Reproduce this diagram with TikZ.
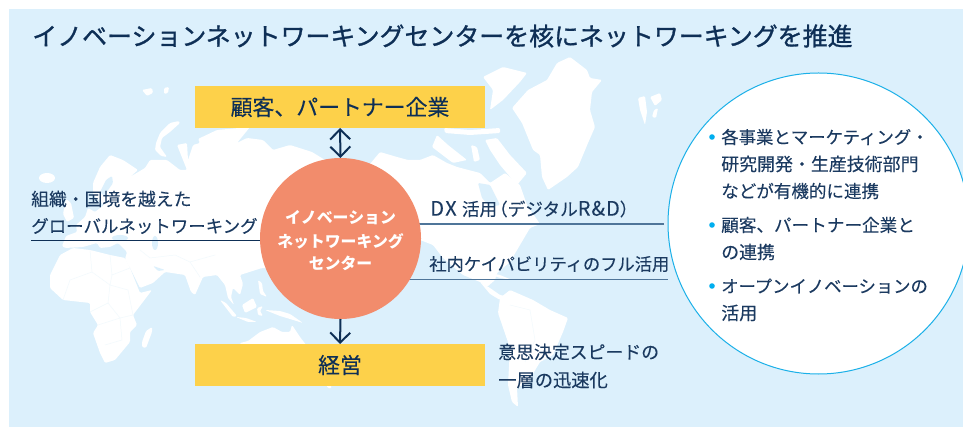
\documentclass[tikz,border=0pt]{standalone}
\usepackage{fontspec}
\usetikzlibrary{arrows.meta}
\newfontfamily\jp[FakeBold=0.12]{Noto Sans CJK JP}
\newfontfamily\jpm[FakeBold=1.1]{Noto Sans CJK JP}
\newfontfamily\jph{Noto Sans CJK JP}
\definecolor{bgblue}{HTML}{DCF0FC}
\definecolor{navy}{HTML}{0E2F56}
\definecolor{textnavy}{HTML}{1B3A60}
\definecolor{sunny}{HTML}{FDD14A}
\definecolor{salmon}{HTML}{F28C6C}
\definecolor{cyanline}{HTML}{1BB0E8}
\definecolor{cyandot}{HTML}{00AEEF}
\definecolor{softline}{HTML}{4F7599}
\definecolor{border}{HTML}{F1F9FD}
\tikzset{
  land/.style={fill=white,draw=none,rounded corners=0.9pt},
  sea/.style={fill=bgblue,draw=none,rounded corners=0.9pt},
  frontier/.style={draw=border,line width=0.35pt},
  titletext/.style={anchor=west,inner sep=0pt,text=navy,font=\jpm\fontsize{18.7pt}{22pt}\selectfont},
  bodytext/.style={anchor=west,inner sep=0pt,text=textnavy,font=\jp\fontsize{#1}{16pt}\selectfont},
  bodytext/.default={13pt},
  boxtext/.style={fill=sunny,inner sep=0pt,outer sep=0pt,minimum width=217.5pt,minimum height=31.5pt,text=navy,font=\jp\fontsize{16.4pt}{20pt}\selectfont},
  hubtext/.style={inner sep=0pt,text=white,font=\jph\bfseries\fontsize{11.9pt}{14pt}\selectfont},
  bulletdot/.style={circle,fill=cyandot,inner sep=0pt,minimum size=4.2pt},
  arrowline/.style={draw=navy,line width=1.5pt,arrows={-Straight Barb[length=7.5pt,width=15pt,line width=1.5pt]}},
  arrowboth/.style={draw=navy,line width=1.5pt,arrows={Straight Barb[length=7.5pt,width=15pt,line width=1.5pt]-Straight Barb[length=7.5pt,width=15pt,line width=1.5pt]}},
}
\begin{document}
\begin{tikzpicture}[x=0.75pt,y=-0.75pt]
\useasboundingbox (0,0) rectangle (963,427);
\fill[bgblue] (9,9) rectangle (963,427);
% --- map ---
% Eurasia
\fill[land] (62,246)--(66,236)--(77,232)--(76,225)--(85,217)--(88,208)--(95,212)--(104,205)--(93,195)--(93,183)--(100,167)--(110,155)--(123,160)--(138,170)--(130,177)--(145,168)--(150,160)--(167,160)--(180,170)--(187,170)--(177,145)--(187,143)--(188,160)--(193,145)--(200,143)--(198,139)--(217,130)--(250,127)--(237,143)--(247,138)--(263,140)--(273,150)--(290,145)--(312,152)--(325,160)--(340,200)--(290,270)--(262,268)--(240,275)--(243,284)--(240,295)--(233,288)--(231,297)--(234,305)--(228,298)--(225,285)--(217,275)--(203,277)--(195,295)--(191,292)--(185,275)--(172,273)--(165,272)--(153,283)--(140,288)--(130,268)--(125,259)--(127,252)--(118,243)--(110,247)--(100,248)--(97,243)--(83,247)--(65,248)--cycle;
\fill[land] (66,199)--(71,203)--(74,218)--(67,222)--(63,214)--cycle;
\fill[sea] (106,180)--(112,176)--(113,183)--(104,196)--(100,192)--cycle;
\fill[bgblue] (120,238) ellipse (8 and 3);
\fill[bgblue] (155,243) ellipse (3 and 7);
\fill[sea] (153,266)--(165,270)--(158,271)--cycle;
\fill[land] (47,178) ellipse (8 and 5);
\fill[land] (142,90)--(152,88)--(153,93)--(147,96)--cycle;
\fill[land] (164,88)--(169,87)--(168,93)--(164,94)--cycle;
\fill[land] (179,121)--(170,123)--(160,133)--(156,143)--(155,150)--(161,156)--(167,157)--(160,147)--(162,138)--(170,132)--(180,123)--cycle;
% Africa
\fill[land] (60,255)--(50,275)--(50,288)--(63,300)--(90,303)--(90,312)--(98,325)--(93,333)--(100,353)--(105,363)--(115,360)--(130,342)--(130,332)--(137,325)--(133,315)--(152,290)--(140,293)--(130,268)--(125,258)--(110,255)--(90,250)--(73,248)--cycle;
\fill[land] (152,327)--(146,331)--(142,342)--(142,347)--(146,348)--(152,332)--cycle;
\draw[frontier] (90,250)--(92,272)--(70,280)--(63,300);
\draw[frontier] (92,272)--(110,285)--(108,303)--(90,312);
\draw[frontier] (110,255)--(112,275)--(130,268);
\draw[frontier] (112,275)--(110,285)--(128,290)--(133,315);
\draw[frontier] (108,303)--(120,318)--(133,315);
\draw[frontier] (98,325)--(120,318)--(122,340)--(105,345);
\draw[frontier] (140,250)--(150,258)--(175,255)--(190,262)--(215,255);
\draw[frontier] (190,262)--(200,277);
% SE Asia and Australia
\fill[land] (220,300)--(226,303)--(237,316)--(233,317)--cycle;
\fill[land] (236,317)--(246,318)--(257,322)--(248,322)--cycle;
\fill[land] (242,305)--(253,298)--(257,307)--(245,313)--cycle;
\fill[land] (257,308)--(263,306)--(260,311)--(263,316)--(258,315)--cycle;
\fill[land] (258,280)--(262,283)--(263,291)--(267,297)--(260,294)--cycle;
\fill[land] (265,310)--(280,311)--(290,314)--(303,323)--(290,319)--(280,316)--cycle;
\fill[land] (240,343)--(248,341)--(260,332)--(273,327)--(282,332)--(290,332)--(292,325)--(300,337)--(310,350)--(240,350)--cycle;
\fill[land] (326,386)--(332,386)--(330,389)--cycle;
% Arctic islands
\fill[land] (483,77)--(503,67)--(527,73)--(520,82)--(503,100)--(490,110)--(493,90)--cycle;
\fill[land] (485,140)--(497,138)--(510,155)--(527,173)--(517,185)--(500,165)--(490,150)--cycle;
\fill[land] (432,147)--(437,135)--(448,145)--(467,160)--(453,163)--cycle;
\fill[land] (471,145)--(477,147)--(480,160)--(474,162)--cycle;
\fill[land] (444,128)--(470,130)--(500,128)--(500,133)--(470,135)--(445,133)--cycle;
% Greenland
\fill[land] (570,57)--(587,70)--(590,78)--(602,80)--(592,92)--(590,110)--(595,127)--(588,143)--(578,167)--(567,177)--(548,190)--(542,177)--(540,155)--(533,150)--(522,123)--(512,108)--(528,90)--(547,80)--(557,63)--cycle;
% Svalbard
\fill[land] (638,98)--(645,96)--(647,112)--(645,125)--(640,110)--cycle;
\fill[land] (650,97)--(660,93)--(662,100)--(655,106)--cycle;
\fill[land] (654,110)--(658,108)--(656,118)--(652,117)--cycle;
% North America
\fill[land] (340,200)--(380,152)--(397,157)--(408,160)--(420,160)--(433,155)--(447,163)--(457,167)--(480,173)--(490,183)--(505,173)--(520,185)--(527,205)--(540,224)--(530,228)--(520,245)--(510,262)--(497,273)--(495,280)--(487,287)--(480,282)--(463,275)--(443,258)--(433,245)--(420,240)--cycle;
\fill[sea] (478,183)--(490,185)--(500,205)--(490,207)--(482,198)--cycle;
\fill[land] (480,282)--(490,288)--(500,295)--(505,296)--(500,300)--(490,294)--cycle;
\fill[land] (484,272)--(500,275)--(512,280)--(500,278)--cycle;
% South America
\fill[land] (500,298)--(510,290)--(533,300)--(550,310)--(568,318)--(563,332)--(553,355)--(540,362)--(528,382)--(517,388)--(518,407)--(512,402)--(508,385)--(510,348)--(498,313)--cycle;
\draw[frontier] (510,305)--(530,310)--(535,340)--(525,362);
% --- connectors under the hub ---
\coordinate (hubC) at (340.5,238.5);
\coordinate (leftEnd) at (31,240.5);
\coordinate (dxEnd) at (664,224);
\coordinate (capEnd) at (668,279.7);
\draw[navy,line width=0.8pt] (leftEnd) -- (leftEnd -| hubC);
\draw[softline,line width=1.1pt] (dxEnd) -- (dxEnd -| hubC);
\draw[softline,line width=1.1pt] (capEnd) -- (capEnd -| hubC);
% --- nodes ---
\node[circle,fill=salmon,inner sep=0pt,outer sep=0pt,minimum size=120.75pt] (hub) at (hubC) {};
\node[boxtext] (customers) at (340,107) {顧客、パートナー企業};
\node[boxtext] (management) at (340,365) {経営};
\draw[arrowboth] (customers.south) -- (hub.north);
\draw[arrowline] (hub.south) -- (management.north);
\begin{scope}
\clip (0,0) rectangle (963,427);
\node[circle,fill=white,draw=cyanline,line width=0.75pt,inner sep=0pt,minimum size=225.75pt] (goal) at (818.5,223.5) {};
\end{scope}
% --- texts ---
\node[titletext] (title) at (32,36) {イノベーションネットワーキングセンターを核にネットワーキングを推進};
\node[hubtext] (hubA) at (340.5,218) {イノベーション};
\node[hubtext] (hubB) at (340.5,241) {ネットワーキング};
\node[hubtext] (hubC1) at (340.5,263) {センター};
\node[bodytext=13.35pt] (leftA) at (31,199) {組織・国境を越えた};
\node[bodytext=13.1pt] (leftB) at (31,226) {グローバルネットワーキング};
\node[bodytext=13.2pt] (dx) at (430,209) {{\fontsize{15pt}{16pt}\selectfont D\kern.06em X}\kern.3em 活用\kern-.4em （デジタル{\fontsize{15pt}{16pt}\selectfont R\kern.05em \&\kern.05em D}）};
\node[bodytext=12.95pt] (cap) at (429,264) {社内ケイパビリティのフル活用};
\node[bodytext=13.4pt] (speedA) at (498,352) {意思決定スピードの};
\node[bodytext=13.7pt] (speedB) at (498,380) {一層の迅速化};
\node[bulletdot] (dotA) at (712,137) {};
\node[bulletdot] (dotB) at (712,225) {};
\node[bulletdot] (dotC) at (712,286) {};
\node[bodytext=13.05pt] (rA) at (721,137) {各事業とマーケティング・};
\node[bodytext=13.45pt] (rB) at (721,164) {研究開発・生産技術部門};
\node[bodytext=13.15pt] (rC) at (721,191) {などが有機的に連携};
\node[bodytext=13.2pt] (rD) at (721,225) {顧客、パートナー企業と};
\node[bodytext=13.4pt] (rE) at (721,252) {の連携};
\node[bodytext=13pt] (rF) at (721,286) {オープンイノベーションの};
\node[bodytext=13.5pt] (rG) at (721,313) {活用};
\end{tikzpicture}
\end{document}
